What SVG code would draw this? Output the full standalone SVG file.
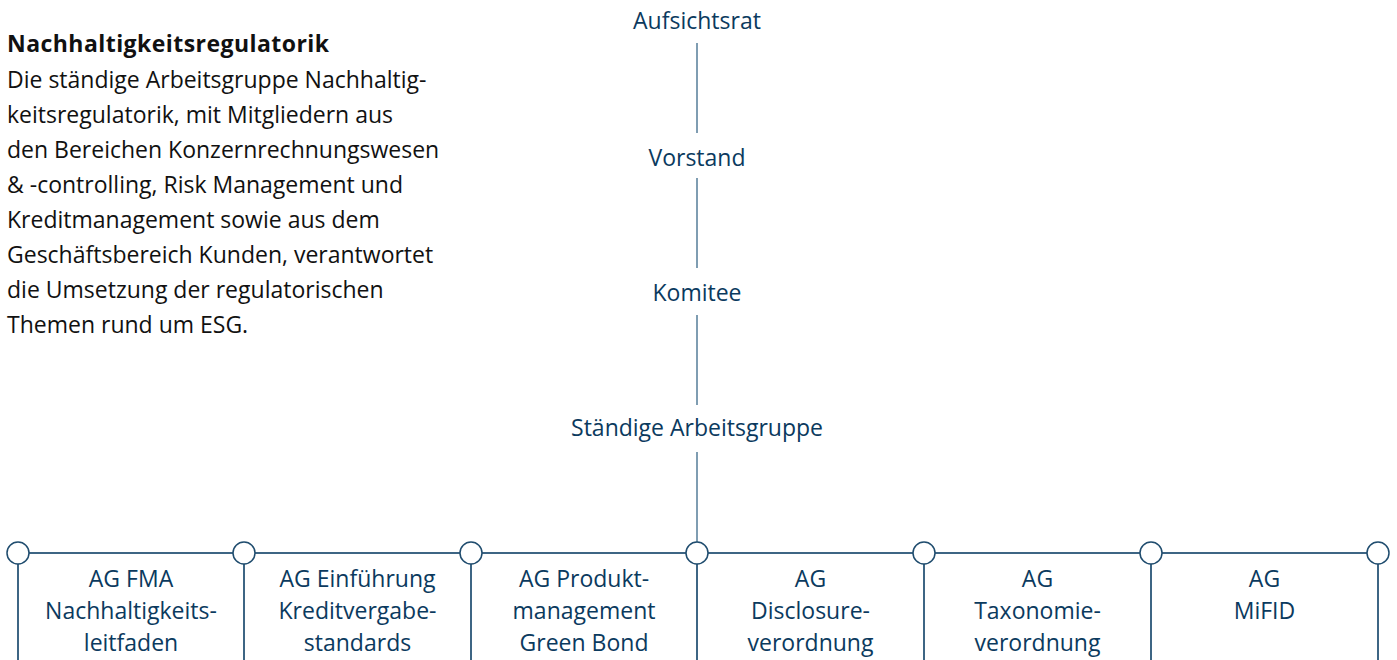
<svg xmlns="http://www.w3.org/2000/svg" width="1397" height="660" viewBox="0 0 1397 660">
  <style>
    .lbl { font-family: "Open Sans", Lato, sans-serif; font-size: 23px; fill: #0b3a5e; text-anchor: middle; }
    .body { font-family: "Open Sans", Lato, sans-serif; font-size: 23px; fill: #111111; }
    .ttl { font-weight: bold; letter-spacing: 0.45px; }
    .stem { stroke: #7f9db2; stroke-width: 2; fill: none; }
    .rail { stroke: #3d6584; stroke-width: 2; fill: none; }
    .knot { stroke: #1f4c6e; stroke-width: 1.5; fill: #ffffff; }
  </style>

  <!-- intro text -->
  <g id="intro">
    <text class="body ttl" x="7" y="52">Nachhaltigkeitsregulatorik</text>
    <text class="body" x="7" y="88">Die ständige Arbeitsgruppe Nachhaltig-</text>
    <text class="body" x="7" y="123">keitsregulatorik, mit Mitgliedern aus</text>
    <text class="body" x="7" y="158">den Bereichen Konzernrechnungswesen</text>
    <text class="body" x="7" y="193">&amp; -controlling, Risk Management und</text>
    <text class="body" x="7" y="228">Kreditmanagement sowie aus dem</text>
    <text class="body" x="7" y="263">Geschäftsbereich Kunden, verantwortet</text>
    <text class="body" x="7" y="298">die Umsetzung der regulatorischen</text>
    <text class="body" x="7" y="333">Themen rund um ESG.</text>
  </g>

  <!-- connectors -->
  <g id="connectors">
    <line class="stem" x1="697" y1="43" x2="697" y2="133"/>
    <line class="stem" x1="697" y1="178" x2="697" y2="268"/>
    <line class="stem" x1="697" y1="315" x2="697" y2="405"/>
    <line class="stem" x1="697" y1="452" x2="697" y2="542"/>
    <line class="rail" x1="18" y1="553" x2="1378" y2="553"/>
    <line class="rail" x1="18" y1="564" x2="18" y2="660"/>
    <line class="rail" x1="244" y1="564" x2="244" y2="660"/>
    <line class="rail" x1="471" y1="564" x2="471" y2="660"/>
    <line class="rail" x1="697" y1="564" x2="697" y2="660"/>
    <line class="rail" x1="924" y1="564" x2="924" y2="660"/>
    <line class="rail" x1="1151" y1="564" x2="1151" y2="660"/>
    <line class="rail" x1="1378" y1="564" x2="1378" y2="660"/>
    <circle class="knot" cx="18" cy="553" r="11"/>
    <circle class="knot" cx="244" cy="553" r="11"/>
    <circle class="knot" cx="471" cy="553" r="11"/>
    <circle class="knot" cx="697" cy="553" r="11"/>
    <circle class="knot" cx="924" cy="553" r="11"/>
    <circle class="knot" cx="1151" cy="553" r="11"/>
    <circle class="knot" cx="1378" cy="553" r="11"/>
  </g>

  <!-- hierarchy -->
  <g id="aufsichtsrat"><text class="lbl" x="697" y="29">Aufsichtsrat</text></g>
  <g id="vorstand"><text class="lbl" x="697" y="166">Vorstand</text></g>
  <g id="komitee"><text class="lbl" x="697" y="301">Komitee</text></g>
  <g id="arbeitsgruppe"><text class="lbl" x="697" y="436">Ständige Arbeitsgruppe</text></g>

  <!-- working groups -->
  <g id="ag-fma">
    <text class="lbl" x="131" y="587">AG FMA</text>
    <text class="lbl" x="131" y="619">Nachhaltigkeits-</text>
    <text class="lbl" x="131" y="651">leitfaden</text>
  </g>
  <g id="ag-kredit">
    <text class="lbl" x="357.5" y="587">AG Einführung</text>
    <text class="lbl" x="357.5" y="619">Kreditvergabe-</text>
    <text class="lbl" x="357.5" y="651">standards</text>
  </g>
  <g id="ag-greenbond">
    <text class="lbl" x="584" y="587">AG Produkt-</text>
    <text class="lbl" x="584" y="619">management</text>
    <text class="lbl" x="584" y="651">Green Bond</text>
  </g>
  <g id="ag-disclosure">
    <text class="lbl" x="810.5" y="587">AG</text>
    <text class="lbl" x="810.5" y="619">Disclosure-</text>
    <text class="lbl" x="810.5" y="651">verordnung</text>
  </g>
  <g id="ag-taxonomie">
    <text class="lbl" x="1037.5" y="587">AG</text>
    <text class="lbl" x="1037.5" y="619">Taxonomie-</text>
    <text class="lbl" x="1037.5" y="651">verordnung</text>
  </g>
  <g id="ag-mifid">
    <text class="lbl" x="1264.5" y="587">AG</text>
    <text class="lbl" x="1264.5" y="619">MiFID</text>
  </g>
</svg>
